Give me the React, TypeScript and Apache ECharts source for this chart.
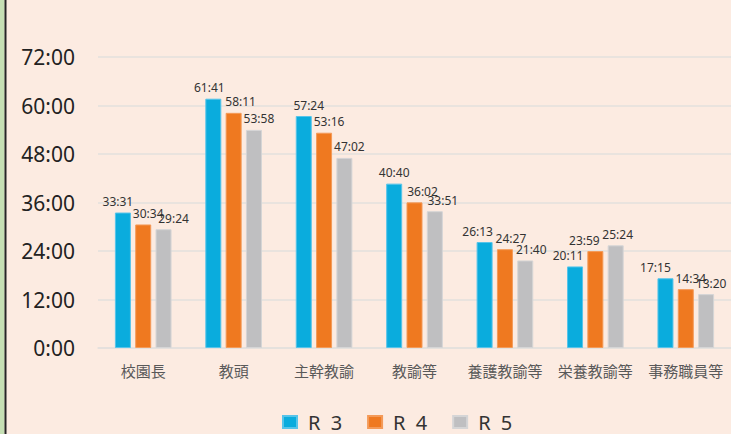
import React, { useEffect, useRef } from "react";
import * as echarts from "echarts";

const categories = ["校園長", "教頭", "主幹教諭", "教諭等", "養護教諭等", "栄養教諭等", "事務職員等"];
const seriesNames = ["R 3", "R 4", "R 5"];
const r3 = ["33:31", "61:41", "57:24", "40:40", "26:13", "20:11", "17:15"];
const r4 = ["30:34", "58:11", "53:16", "36:02", "24:27", "23:59", "14:34"];
const r5 = ["29:24", "53:58", "47:02", "33:51", "21:40", "25:24", "13:20"];
const yMaxMinutes = 72 * 60;
const yStepMinutes = 12 * 60;

// label horizontal nudges (styling, px)
const r3Dx = [-5, -4, 5, 0, -7, -7, -10];
const r4Dx = [5, 7, 5, 8, 6, -11, 5];
const r5Dx = [10, 5, 5, 8, 6, 2, 5];

const colors = ["#0AACDD", "#EF7920", "#BFBFC1"];
const borders = ["#56c4ea", "#f49a58", "#d5d5d6"];

const toMin = (s: string) => {
  const [h, m] = s.split(":").map(Number);
  return h * 60 + m;
};
const fmt = (v: number) => {
  const h = Math.floor(v / 60);
  const m = Math.round(v % 60);
  return `${h}:${m < 10 ? "0" + m : m}`;
};

const NUM_FONT = "'Noto Sans', 'DejaVu Sans', sans-serif";
const CJK_FONT = "'Noto Sans CJK JP', 'Noto Sans', sans-serif";

export default function App() {
  const ref = useRef<HTMLDivElement>(null);
  useEffect(() => {
    if (!ref.current) return;
    const chart = echarts.init(ref.current, null, { renderer: "svg" });
    const all = [r3, r4, r5];
    const dxs = [r3Dx, r4Dx, r5Dx];
    chart.setOption({
      animation: false,
      backgroundColor: "#FCEBE1",
      graphic: [
        { type: "rect", left: 0, top: 0, shape: { width: 4.5, height: 434 }, style: { fill: "#C6E0B4" } },
        { type: "rect", left: 4.5, top: 0, shape: { width: 2, height: 434 }, style: { fill: "#262626" } },
      ],
      grid: { left: 98, top: 57, width: 636, height: 291 },
      legend: {
        left: 277,
        top: 412,
        padding: [0, 5, 0, 5],
        itemWidth: 14,
        itemHeight: 12,
        itemGap: 25,
        icon: "rect",
        formatter: (name: string) => {
          const [a, b] = name.split(" ");
          return `{a|${a}} {b|${b}}`;
        },
        textStyle: {
          fontFamily: NUM_FONT,
          fontSize: 20,
          lineHeight: 20,
          color: "#333",
          padding: [0, 0, 0, 6],
          rich: {
            a: { fontFamily: NUM_FONT, fontSize: 20, color: "#333", lineHeight: 20 },
            b: { fontFamily: NUM_FONT, fontSize: 20, color: "#333", lineHeight: 20, padding: [0, 0, 0, 5] },
          },
        },
        data: seriesNames,
      },
      xAxis: {
        type: "category",
        data: categories,
        axisTick: { show: false },
        axisLine: { lineStyle: { color: "#E3E0DD", width: 1.5 } },
        axisLabel: { fontFamily: CJK_FONT, fontSize: 15, color: "#595959", margin: 15, interval: 0 },
      },
      yAxis: {
        type: "value",
        min: 0,
        max: yMaxMinutes,
        interval: yStepMinutes,
        axisLine: { show: false },
        axisTick: { show: false },
        splitLine: { lineStyle: { color: "#E3E0DD", width: 1.5 } },
        axisLabel: {
          fontFamily: NUM_FONT,
          fontSize: 21,
          color: "#222",
          margin: 23,
          formatter: (v: number) => fmt(v),
        },
      },
      series: all.map((arr, si) => ({
        name: seriesNames[si],
        type: "bar",
        barWidth: 16,
        barGap: "27%",
        itemStyle: { color: colors[si], borderColor: borders[si], borderWidth: 1 },
        data: arr.map((s, i) => ({
          value: toMin(s),
          label: { offset: [dxs[si][i], 0] },
        })),
        label: {
          show: true,
          position: "top",
          distance: 5,
          fontFamily: NUM_FONT,
          fontSize: 12,
          color: "#333",
          formatter: (p: any) => fmt(p.value),
        },
      })),
    });
    return () => chart.dispose();
  }, []);
  return (
    <div
      ref={ref}
      style={{ position: "fixed", left: 0, top: 0, width: 731, height: 434 }}
    />
  );
}
